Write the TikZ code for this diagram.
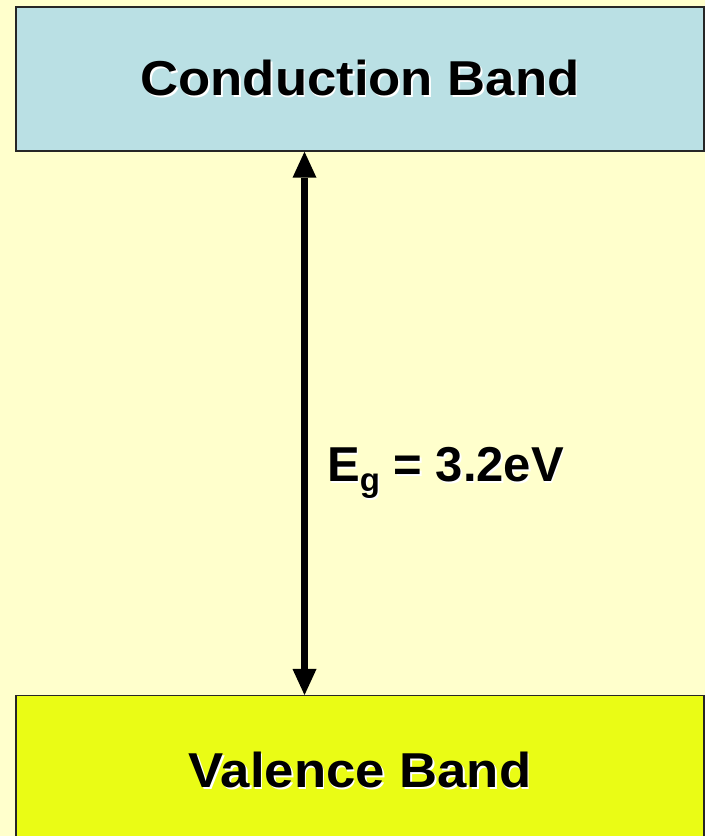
\documentclass[tikz,border=0pt]{standalone}
\usepackage{fontspec}
\setmainfont{Liberation Sans}[FakeStretch=1.075]
\newfontfamily\labelfont{Liberation Sans}
\usepackage{tikz}
\usetikzlibrary{arrows.meta, positioning, calc}

\definecolor{bgyellow}{HTML}{FFFFCC}
\definecolor{condblue}{HTML}{BAE0E4}
\definecolor{valyellow}{HTML}{EAFC15}

% black text with a white shadow to the lower right
\newcommand{\shtext}[1]{\makebox[0pt][l]{\hspace{1.5pt}\raisebox{-1.5pt}{\color{white}#1}}#1}

\begin{document}
\begin{tikzpicture}[x=1pt, y=1pt,
        band/.style={rectangle, draw=black!85, line width=1.5pt, minimum width=688pt, inner sep=0pt, align=center, font=\fontsize{49}{58}\selectfont\bfseries},
        gap/.style={{Triangle[width=24pt,length=26pt,line width=0pt]}-{Triangle[width=24pt,length=26pt,line width=0pt]}, line width=7.6pt}
    ]
        \fill[bgyellow] (0,0) rectangle (705,836);
        \useasboundingbox (0,0) rectangle (705,836);

        \node[band, fill=condblue, minimum height=144pt] (cond) at (360,757) {\shtext{Conduction Band}};
        \node[band, fill=valyellow, minimum height=150pt, anchor=north] (val) at (360,141) {\shtext{Valence Band}};
        \node[anchor=base west, inner sep=0pt, font=\labelfont\fontsize{49}{58}\selectfont\bfseries] (eg) at (327,354) {\shtext{E\raisebox{-10pt}{\fontsize{33}{33}\selectfont g} = 3.2eV}};

        \coordinate (gapx) at (304.5,0);
        \draw[gap] (cond.south -| gapx) -- (val.north -| gapx);
    \end{tikzpicture}
\end{document}
